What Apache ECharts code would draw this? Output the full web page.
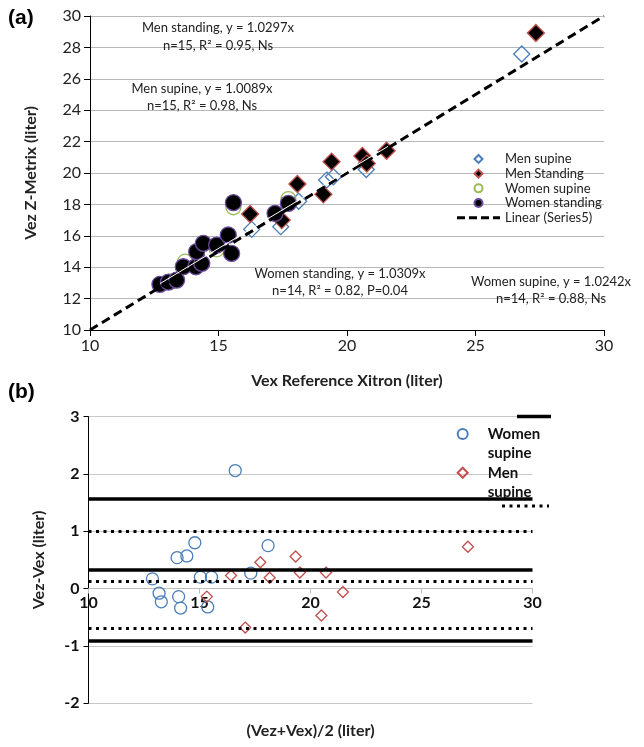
<!DOCTYPE html>
<html><head><meta charset="utf-8">
<script src="https://cdn.jsdelivr.net/npm/echarts@6/dist/echarts.min.js"></script>
<style>html,body{margin:0;padding:0;background:#fff}#c{width:644px;height:747px}</style>
</head><body><div id="c"></div>
<script>
const FONT = 'Lato, "Liberation Sans", sans-serif';

// ---------- Panel (a) data ----------
const menSupine = [[16.29,16.41],[17.42,16.58],[18.12,18.20],[19.21,19.55],[19.47,19.76],[20.75,20.22],[26.80,27.58]];
const menStanding = [[16.23,17.39],[17.46,17.00],[18.07,19.30],[19.08,18.64],[19.40,20.72],[20.60,21.08],[20.77,20.60],[21.54,21.42],[27.35,28.92]];
const womenSupine = [[13.18,13.10],[13.70,14.35],[14.93,15.14],[15.58,17.82],[17.72,18.34]];
const womenStanding = [[12.72,12.91],[13.05,13.05],[13.37,13.18],[13.63,14.03],[14.12,14.03],[14.35,14.25],[14.15,14.99],[14.41,15.52],[14.93,15.41],[15.38,16.05],[15.51,14.88],[15.58,18.11],[17.20,17.43],[17.72,18.07]];
const identityLine = [[10,10],[30,30]];
const womenTrend = [[12.72,12.95],[21.6,21.7]];
const legendA = ['Men supine','Men Standing','Women supine','Women standing','Linear (Series5)'];
const annotations = [
  ['Men standing, y = 1.0297x','n=15, R² = 0.95, Ns'],
  ['Men supine, y = 1.0089x','n=15, R² = 0.98, Ns'],
  ['Women standing, y = 1.0309x','n=14, R² = 0.82, P=0.04'],
  ['Women supine, y = 1.0242x','n=14, R² = 0.88, Ns']
];

// ---------- Panel (b) data ----------
const bWomenSupine = [[12.88,0.17],[13.18,-0.08],[13.28,-0.23],[13.99,0.54],[14.43,0.57],[14.79,0.80],[14.06,-0.14],[14.15,-0.34],[15.04,0.20],[15.54,0.20],[15.37,-0.32],[16.61,2.06],[17.31,0.27],[18.09,0.75]];
const bMenSupine = [[15.33,-0.14],[16.42,0.23],[17.06,-0.68],[17.74,0.46],[18.16,0.19],[19.33,0.56],[19.52,0.28],[20.49,-0.47],[20.70,0.28],[21.46,-0.06],[27.09,0.73]];
const solidLimits = [1.56, 0.33, -0.91];
const dottedLimits = [1.00, 0.13, -0.70];
const legendB = ['Women supine','Men supine'];

const chart = echarts.init(document.getElementById('c'), null, {renderer:'canvas'});

const DIAMOND = 'path://M5,0L10,5L5,10L0,5Z';
const DASH = 'path://M0,0h8v3h-8zM12,0h8v3h-8zM24,0h8v3h-8zM36,0h7v3h-7z';

const annPos = [[218,28,46],[202,89,106],[340,274,291],[551,282,299]];
const graphics = [];
annotations.forEach((a,i)=>{
  const p = annPos[i];
  graphics.push({type:'text', z:10, style:{text:a[0], x:p[0], y:p[1], align:'center', verticalAlign:'middle', font:'13px '+FONT, fill:'#222'}});
  graphics.push({type:'text', z:10, style:{text:a[1], x:p[0], y:p[2], align:'center', verticalAlign:'middle', font:'13px '+FONT, fill:'#222'}});
});
graphics.push({type:'text', style:{text:'(a)', x:8, y:18, verticalAlign:'middle', font:'bold 21px "Liberation Sans", Arial, sans-serif', fill:'#000'}});
graphics.push({type:'text', style:{text:'(b)', x:8, y:392, verticalAlign:'middle', font:'bold 21px "Liberation Sans", Arial, sans-serif', fill:'#000'}});
graphics.push({type:'line', z:10, shape:{x1:517,y1:416.5,x2:551,y2:416.5}, style:{stroke:'#000', lineWidth:3.5}});
graphics.push({type:'line', z:10, shape:{x1:502,y1:506,x2:549,y2:506}, style:{stroke:'#000', lineWidth:3, lineDash:[3,4.5]}});

const axLabelA = {color:'#222', fontSize:16, fontFamily:FONT};
const axLabelB = {color:'#111', fontSize:16, fontFamily:FONT, fontWeight:'bold'};
const nameStyle = {color:'#222', fontSize:16, fontFamily:FONT, fontWeight:'bold'};
const legendBStyle = {fontSize:15, fontFamily:FONT, fontWeight:'bold', color:'#111', lineHeight:19.5};
const bName = n => n + ' (b)';

// grid (b) geometry: y from -2 to 3; zero line lies 2/5 of the height above the bottom
const gbTop = 416.7, gbHeight = 286.5;
const zeroOffset = -gbHeight * 2 / 5;

const option = {
  animation:false,
  backgroundColor:'#fff',
  graphic: graphics,
  grid:[
    {left:90, top:16, width:514, height:314, outerBoundsMode:'none'},
    {left:88.5, top:gbTop, width:444, height:gbHeight, outerBoundsMode:'none'}
  ],
  xAxis:[
    {type:'value', gridIndex:0, min:10, max:30, interval:5,
     axisLine:{onZero:false, lineStyle:{color:'#000', width:1}}, axisTick:{show:true, length:6, lineStyle:{color:'#000'}},
     splitLine:{show:false}, axisLabel:Object.assign({margin:8}, axLabelA),
     name:'Vex Reference Xitron (liter)', nameLocation:'middle', nameGap:43, nameTextStyle:nameStyle},
    {type:'value', gridIndex:1, min:10, max:30, interval:5, position:'bottom', offset:zeroOffset,
     axisLine:{onZero:false, lineStyle:{color:'#bdbdbd', width:1}}, axisTick:{show:true, length:5, lineStyle:{color:'#bdbdbd'}},
     splitLine:{show:false}, axisLabel:Object.assign({margin:6}, axLabelB),
     name:'(Vez+Vex)/2 (liter)', nameLocation:'middle', nameGap:134, nameTextStyle:nameStyle}
  ],
  yAxis:[
    {type:'value', gridIndex:0, min:10, max:30, interval:2,
     axisLine:{show:true, onZero:false, lineStyle:{color:'#000'}}, axisTick:{show:true, length:6, lineStyle:{color:'#000'}},
     splitLine:{show:true, lineStyle:{color:'#b8b8b8', width:1}}, axisLabel:Object.assign({margin:9}, axLabelA),
     name:'Vez Z-Metrix (liter)', nameLocation:'middle', nameGap:51, nameTextStyle:nameStyle},
    {type:'value', gridIndex:1, min:-2, max:3, interval:1,
     axisLine:{show:true, onZero:false, lineStyle:{color:'#000'}}, axisTick:{show:true, length:5, lineStyle:{color:'#000'}},
     splitLine:{show:true, lineStyle:{color:'#c8c8c8', width:1}}, axisLabel:Object.assign({margin:9}, axLabelB),
     name:'Vez-Vex (liter)', nameLocation:'middle', nameGap:42, nameTextStyle:nameStyle}
  ],
  legend:[
    {data:[
        {name:legendA[0], icon:DIAMOND},
        {name:legendA[1], icon:DIAMOND},
        {name:legendA[2]},
        {name:legendA[3]},
        {name:legendA[4], icon:DASH}],
     orient:'vertical', left:452, top:146.6, padding:5, itemGap:0, itemWidth:43, itemHeight:8, symbolKeepAspect:true,
     textStyle:{fontSize:13, fontFamily:FONT, color:'#222', lineHeight:14.7}},
    {data:[{name:bName(legendB[0])}], orient:'vertical', left:451.7, top:399.75, padding:5, itemWidth:40, itemHeight:10,
     formatter: n => ' \n' + n.replace(' (b)','').replace(' ','\n'), textStyle:legendBStyle},
    {data:[{name:bName(legendB[1]), icon:DIAMOND}], orient:'vertical', left:451.7, top:438.5, padding:5, itemWidth:40, itemHeight:10, symbolKeepAspect:true,
     formatter: n => ' \n' + n.replace(' (b)','').replace(' ','\n'), textStyle:legendBStyle}
  ],
  series:[
    {name:'Men supine', type:'scatter', xAxisIndex:0, yAxisIndex:0, data:menSupine, symbol:'diamond', symbolSize:16,
     itemStyle:{color:'rgba(255,255,255,0)', borderColor:'#4a7ebb', borderWidth:1.3, opacity:1}, z:2},
    {name:'Men Standing', type:'scatter', xAxisIndex:0, yAxisIndex:0, data:menStanding, symbol:'diamond', symbolSize:17,
     itemStyle:{color:'#000', borderColor:'#c0504d', borderWidth:1.3, opacity:1}, z:3},
    {name:'Women supine', type:'scatter', xAxisIndex:0, yAxisIndex:0, data:womenSupine, symbol:'circle', symbolSize:15,
     itemStyle:{color:'rgba(255,255,255,0)', borderColor:'#9bbb59', borderWidth:1.3, opacity:1}, z:4},
    {name:'Women standing', type:'scatter', xAxisIndex:0, yAxisIndex:0, data:womenStanding, symbol:'circle', symbolSize:16,
     itemStyle:{color:'#000', borderColor:'#6a4a9a', borderWidth:1.3, opacity:1}, z:5},
    {name:'Linear (Series5)', type:'line', xAxisIndex:0, yAxisIndex:0, data:identityLine, showSymbol:false, symbol:'none',
     lineStyle:{color:'#000', width:3, type:[9,5]}, itemStyle:{color:'#000'}, z:6},
    {name:'trend', type:'line', xAxisIndex:0, yAxisIndex:0, data:womenTrend, showSymbol:false, symbol:'none',
     lineStyle:{color:'#fff', width:1}, z:7, silent:true},
    {name:bName(legendB[0]), type:'scatter', xAxisIndex:1, yAxisIndex:1, data:bWomenSupine, symbol:'circle', symbolSize:12,
     itemStyle:{color:'rgba(255,255,255,0)', borderColor:'#4a7ebb', borderWidth:1.3, opacity:1}, z:4,
     markLine:{silent:true, symbol:'none', label:{show:false},
       data: solidLimits.map(v=>({yAxis:v, lineStyle:{type:'solid', width:3.5, color:'#000'}}))
         .concat(dottedLimits.map(v=>({yAxis:v, lineStyle:{type:[3,4.5], width:3, color:'#000', cap:'butt'}})))}},
    {name:bName(legendB[1]), type:'scatter', xAxisIndex:1, yAxisIndex:1, data:bMenSupine, symbol:'diamond', symbolSize:11,
     itemStyle:{color:'rgba(255,255,255,0)', borderColor:'#c0504d', borderWidth:1.3, opacity:1}, z:4}
  ]
};
chart.setOption(option);
</script></body></html>
